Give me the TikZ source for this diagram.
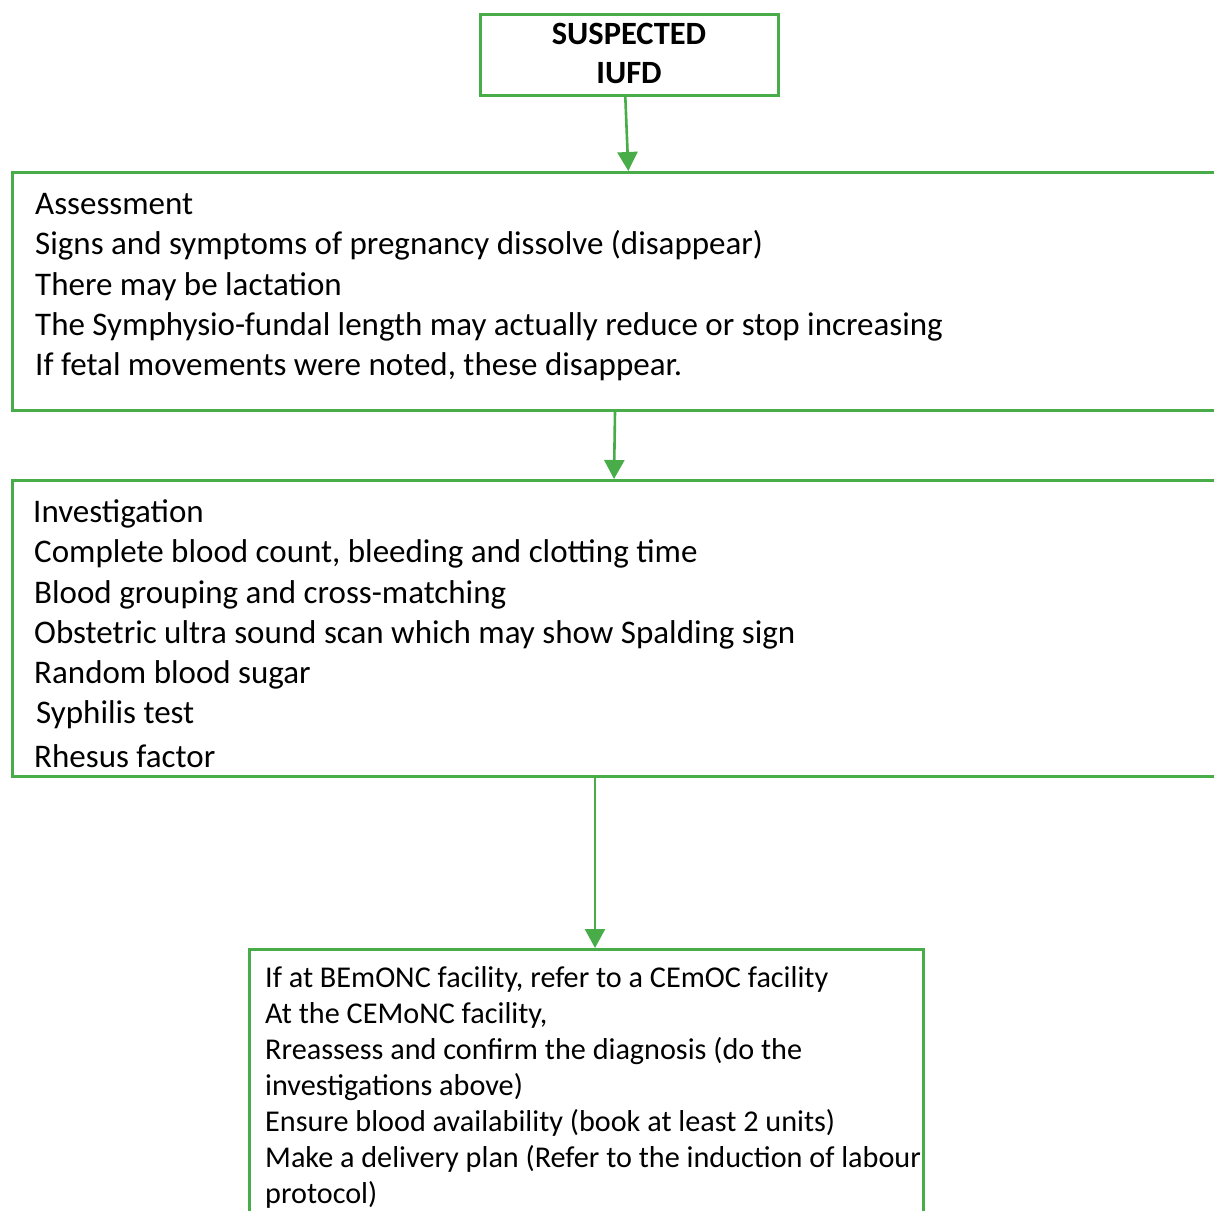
\documentclass[tikz,border=0pt]{standalone}
\usepackage{fontspec}
\setmainfont{Carlito}
\usetikzlibrary{arrows.meta}
\definecolor{boxgreen}{RGB}{72,172,72}
\tikzset{
  box/.style={draw=boxgreen, line width=2.6pt, inner sep=0pt, anchor=north west},
  flow/.style={draw=boxgreen, line width=2.6pt, -{Triangle[width=20pt,length=19pt]}},
  bodytext/.style={inner sep=0pt, anchor=north west, align=left, font=\fontsize{33}{40.3}\selectfont},
  smalltext/.style={inner sep=0pt, anchor=north west, align=left, font=\fontsize{30.2}{36}\selectfont},
}
\begin{document}
\begin{tikzpicture}[x=1pt,y=-1pt]
\useasboundingbox (0,0) rectangle (1214,1210);
% boxes
\node[box, minimum width=298pt, minimum height=81pt] (b1) at (479,13) {};
\node[box, minimum width=1240pt, minimum height=238pt] (b2) at (11,171) {};
\node[box, minimum width=1240pt, minimum height=296pt] (b3) at (11,479) {};
\node[box, minimum width=674pt, minimum height=300pt] (b4) at (248,948) {};
% texts
\node[inner sep=0pt, anchor=north, align=center, font=\fontsize{32.5}{39}\selectfont\bfseries] (t1) at (629,17) {\strut SUSPECTED\\IUFD};
\node[bodytext] (t2) at (35,186) {\strut Assessment\\
Signs and symptoms of pregnancy dissolve (disappear)\\
There may be lactation\\
The Symphysio-fundal length may actually reduce or stop increasing\\
If fetal movements were noted, these disappear.};
\node[bodytext] (t3) at (33,494) {\strut Investigation\\
\hspace*{1pt}Complete blood count, bleeding and clotting time\\
\hspace*{1pt}Blood grouping and cross-matching\\
\hspace*{1pt}Obstetric ultra sound scan which may show Spalding sign\\
\hspace*{1pt}Random blood sugar\\
\hspace*{3pt}Syphilis test\\[3pt]
\hspace*{1pt}Rhesus factor};
\node[smalltext] (t4) at (265,962) {\strut If at BEmONC facility, refer to a CEmOC facility\\
At the CEMoNC facility,\\
Rreassess and confirm the diagnosis (do the\\
investigations above)\\
Ensure blood availability (book at least 2 units)\\
Make a delivery plan (Refer to the induction of labour\\
protocol)};
% connectors
\coordinate (a1s) at ([xshift=-4pt]b1.south);
\coordinate (a1e) at ([xshift=-1pt]b1.south |- b2.north);
\draw[flow] (a1s) -- (a1e);
\coordinate (a2s) at (615,409);
\coordinate (a2e) at (614,479);
\draw[flow] (a2s |- b2.south) -- (a2e |- b3.north);
\coordinate (a3) at (595,775);
\draw[flow] (a3 |- b3.south) -- (a3 |- b4.north);
\end{tikzpicture}
\end{document}
